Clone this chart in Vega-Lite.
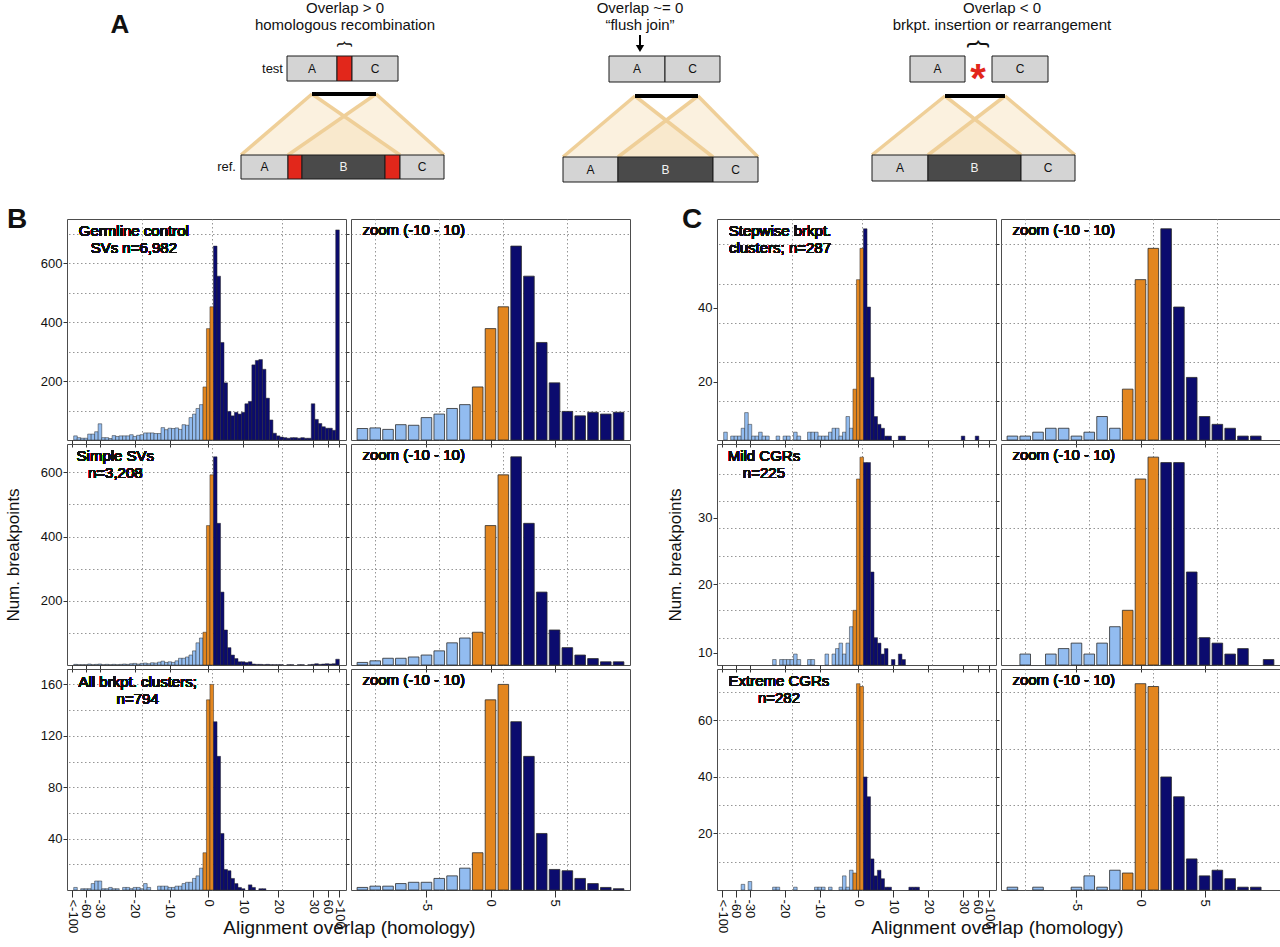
{
  "$schema": "https://vega.github.io/schema/vega-lite/v6.json",
  "padding": {"left": 3, "top": 0, "right": 0, "bottom": 0},
  "autosize": {"type": "pad"},
  "background": "white",
  "config": {
    "font": "Liberation Sans",
    "view": {"stroke": "#4d4d4d", "strokeWidth": 1},
    "axis": {"domain": false, "labelColor": "#111", "labelFontSize": 13, "labelOverlap": false, "tickColor": "#333", "gridColor": "#8a8a8a", "gridDash": [1.5, 2.5], "gridWidth": 0.9, "titleColor": "#111", "titleFontWeight": "normal"},
    "title": {"fontWeight": "bold", "color": "#111"}
  },
  "resolve": {"scale": {"color": "independent"}},
  "datasets": {
    "boxes": [
      {"x": 28.7, "x2": 33.7, "y": 5.6, "y2": 8.1, "tone": "light"},
      {"x": 33.7, "x2": 35.2, "y": 5.6, "y2": 8.1, "tone": "red"},
      {"x": 35.2, "x2": 39.8, "y": 5.6, "y2": 8.1, "tone": "light"},
      {"x": 24.1, "x2": 28.8, "y": 15.5, "y2": 17.9, "tone": "light"},
      {"x": 28.8, "x2": 30.2, "y": 15.5, "y2": 17.9, "tone": "red"},
      {"x": 30.2, "x2": 38.5, "y": 15.5, "y2": 17.9, "tone": "dark"},
      {"x": 38.5, "x2": 40.0, "y": 15.5, "y2": 17.9, "tone": "red"},
      {"x": 40.0, "x2": 44.4, "y": 15.5, "y2": 17.9, "tone": "light"},
      {"x": 60.9, "x2": 66.5, "y": 5.6, "y2": 8.2, "tone": "light"},
      {"x": 66.5, "x2": 72.0, "y": 5.6, "y2": 8.2, "tone": "light"},
      {"x": 56.3, "x2": 61.8, "y": 15.7, "y2": 18.2, "tone": "light"},
      {"x": 61.8, "x2": 71.3, "y": 15.7, "y2": 18.2, "tone": "dark"},
      {"x": 71.3, "x2": 75.8, "y": 15.7, "y2": 18.2, "tone": "light"},
      {"x": 91.0, "x2": 96.5, "y": 5.6, "y2": 8.2, "tone": "light"},
      {"x": 99.2, "x2": 104.8, "y": 5.6, "y2": 8.2, "tone": "light"},
      {"x": 87.2, "x2": 92.8, "y": 15.5, "y2": 18.1, "tone": "light"},
      {"x": 92.8, "x2": 102.1, "y": 15.5, "y2": 18.1, "tone": "dark"},
      {"x": 102.1, "x2": 107.5, "y": 15.5, "y2": 18.1, "tone": "light"}
    ],
    "links": [
      {"x": 31.2, "x2": 37.6, "y": 9.4},
      {"x": 63.5, "x2": 69.8, "y": 9.6},
      {"x": 94.5, "x2": 100.5, "y": 9.6}
    ],
    "beams": [
      {"w": "1L", "y": 9.4, "xa": 31.2, "xb": 31.2}, {"w": "1L", "y": 15.5, "xa": 24.1, "xb": 40.0},
      {"w": "1R", "y": 9.4, "xa": 37.6, "xb": 37.6}, {"w": "1R", "y": 15.5, "xa": 28.8, "xb": 44.4},
      {"w": "2L", "y": 9.6, "xa": 63.5, "xb": 63.5}, {"w": "2L", "y": 15.7, "xa": 56.3, "xb": 71.3},
      {"w": "2R", "y": 9.6, "xa": 69.8, "xb": 69.8}, {"w": "2R", "y": 15.7, "xa": 61.8, "xb": 75.8},
      {"w": "3L", "y": 9.6, "xa": 94.5, "xb": 94.5}, {"w": "3L", "y": 15.5, "xa": 87.2, "xb": 102.1},
      {"w": "3R", "y": 9.6, "xa": 100.5, "xb": 100.5}, {"w": "3R", "y": 15.5, "xa": 92.8, "xb": 107.5}
    ],
    "edges": [
      {"x": 31.2, "y": 9.4, "x2": 24.1, "y2": 15.5}, {"x": 31.2, "y": 9.4, "x2": 40.0, "y2": 15.5},
      {"x": 37.6, "y": 9.4, "x2": 28.8, "y2": 15.5}, {"x": 37.6, "y": 9.4, "x2": 44.4, "y2": 15.5},
      {"x": 63.5, "y": 9.6, "x2": 56.3, "y2": 15.7}, {"x": 63.5, "y": 9.6, "x2": 71.3, "y2": 15.7},
      {"x": 69.8, "y": 9.6, "x2": 61.8, "y2": 15.7}, {"x": 69.8, "y": 9.6, "x2": 75.8, "y2": 15.7},
      {"x": 94.5, "y": 9.6, "x2": 87.2, "y2": 15.5}, {"x": 94.5, "y": 9.6, "x2": 102.1, "y2": 15.5},
      {"x": 100.5, "y": 9.6, "x2": 92.8, "y2": 15.5}, {"x": 100.5, "y": 9.6, "x2": 107.5, "y2": 15.5}
    ],
    "heads": [
      {"x": 34.5, "y": 1.3, "t": "Overlap > 0"},
      {"x": 34.5, "y": 3.0, "t": "homologous recombination"},
      {"x": 64.0, "y": 1.3, "t": "Overlap ~= 0"},
      {"x": 64.0, "y": 3.0, "t": "“flush join”"},
      {"x": 100.2, "y": 1.3, "t": "Overlap < 0"},
      {"x": 100.2, "y": 3.0, "t": "brkpt. insertion or rearrangement"}
    ],
    "boxText": [
      {"x": 31.2, "y": 6.85, "t": "A", "on": "light"}, {"x": 37.5, "y": 6.85, "t": "C", "on": "light"},
      {"x": 26.45, "y": 16.7, "t": "A", "on": "light"}, {"x": 34.35, "y": 16.7, "t": "B", "on": "dark"}, {"x": 42.2, "y": 16.7, "t": "C", "on": "light"},
      {"x": 63.7, "y": 6.9, "t": "A", "on": "light"}, {"x": 69.25, "y": 6.9, "t": "C", "on": "light"},
      {"x": 59.05, "y": 16.95, "t": "A", "on": "light"}, {"x": 66.55, "y": 16.95, "t": "B", "on": "dark"}, {"x": 73.55, "y": 16.95, "t": "C", "on": "light"},
      {"x": 93.75, "y": 6.9, "t": "A", "on": "light"}, {"x": 102.0, "y": 6.9, "t": "C", "on": "light"},
      {"x": 90.0, "y": 16.8, "t": "A", "on": "light"}, {"x": 97.45, "y": 16.8, "t": "B", "on": "dark"}, {"x": 104.8, "y": 16.8, "t": "C", "on": "light"}
    ],
    "sideText": [
      {"x": 28.3, "y": 6.9, "t": "test"},
      {"x": 23.6, "y": 16.7, "t": "ref."}
    ],
    "germ": [
      {"p": -38, "n": 14}, {"p": -37, "n": 8}, {"p": -36, "n": 6}, {"p": -35, "n": 6}, {"p": -34, "n": 20}, {"p": -33, "n": 20}, {"p": -32, "n": 28}, {"p": -31, "n": 55}, {"p": -30, "n": 8}, {"p": -29, "n": 8},
      {"p": -28, "n": 5}, {"p": -27, "n": 15}, {"p": -26, "n": 12}, {"p": -25, "n": 14}, {"p": -24, "n": 14}, {"p": -23, "n": 14}, {"p": -22, "n": 18}, {"p": -21, "n": 12}, {"p": -20, "n": 16}, {"p": -19, "n": 18},
      {"p": -18, "n": 24}, {"p": -17, "n": 24}, {"p": -16, "n": 24}, {"p": -15, "n": 22}, {"p": -14, "n": 22}, {"p": -13, "n": 42}, {"p": -12, "n": 35}, {"p": -11, "n": 40},
      {"p": -10, "n": 39}, {"p": -9, "n": 41}, {"p": -8, "n": 36}, {"p": -7, "n": 52}, {"p": -6, "n": 50}, {"p": -5, "n": 76}, {"p": -4, "n": 88}, {"p": -3, "n": 107}, {"p": -2, "n": 120},
      {"p": -1, "n": 180}, {"p": 0, "n": 378}, {"p": 1, "n": 452},
      {"p": 2, "n": 658}, {"p": 3, "n": 556}, {"p": 4, "n": 331}, {"p": 5, "n": 194}, {"p": 6, "n": 97}, {"p": 7, "n": 82}, {"p": 8, "n": 94}, {"p": 9, "n": 88}, {"p": 10, "n": 94},
      {"p": 11, "n": 123}, {"p": 12, "n": 131}, {"p": 13, "n": 255}, {"p": 14, "n": 270}, {"p": 15, "n": 273}, {"p": 16, "n": 240}, {"p": 17, "n": 142}, {"p": 18, "n": 68}, {"p": 19, "n": 23}, {"p": 20, "n": 14},
      {"p": 21, "n": 10}, {"p": 22, "n": 8}, {"p": 23, "n": 6}, {"p": 24, "n": 8}, {"p": 25, "n": 8}, {"p": 26, "n": 6}, {"p": 27, "n": 8}, {"p": 28, "n": 6}, {"p": 29, "n": 6},
      {"p": 30, "n": 123}, {"p": 31, "n": 70}, {"p": 32, "n": 56}, {"p": 33, "n": 45}, {"p": 34, "n": 40}, {"p": 35, "n": 40}, {"p": 36, "n": 33}, {"p": 37, "n": 713}
    ],
    "simp": [
      {"p": -38, "n": 2}, {"p": -37, "n": 1}, {"p": -36, "n": 1}, {"p": -35, "n": 1}, {"p": -34, "n": 3}, {"p": -33, "n": 1}, {"p": -32, "n": 2}, {"p": -31, "n": 3}, {"p": -30, "n": 1}, {"p": -29, "n": 2},
      {"p": -28, "n": 1}, {"p": -27, "n": 2}, {"p": -26, "n": 1}, {"p": -25, "n": 2}, {"p": -24, "n": 3}, {"p": -23, "n": 2}, {"p": -22, "n": 4}, {"p": -21, "n": 5}, {"p": -20, "n": 3}, {"p": -19, "n": 5},
      {"p": -18, "n": 6}, {"p": -17, "n": 4}, {"p": -16, "n": 7}, {"p": -15, "n": 6}, {"p": -14, "n": 9}, {"p": -13, "n": 12}, {"p": -12, "n": 8}, {"p": -11, "n": 10},
      {"p": -10, "n": 8}, {"p": -9, "n": 13}, {"p": -8, "n": 21}, {"p": -7, "n": 21}, {"p": -6, "n": 25}, {"p": -5, "n": 31}, {"p": -4, "n": 44}, {"p": -3, "n": 69}, {"p": -2, "n": 84},
      {"p": -1, "n": 102}, {"p": 0, "n": 434}, {"p": 1, "n": 592},
      {"p": 2, "n": 648}, {"p": 3, "n": 441}, {"p": 4, "n": 227}, {"p": 5, "n": 109}, {"p": 6, "n": 54}, {"p": 7, "n": 31}, {"p": 8, "n": 20}, {"p": 9, "n": 10}, {"p": 10, "n": 10},
      {"p": 11, "n": 8}, {"p": 12, "n": 10}, {"p": 13, "n": 3}, {"p": 14, "n": 2}, {"p": 15, "n": 2}, {"p": 16, "n": 1}, {"p": 17, "n": 2}, {"p": 18, "n": 1}, {"p": 19, "n": 1}, {"p": 20, "n": 1},
      {"p": 21, "n": 1}, {"p": 23, "n": 1}, {"p": 24, "n": 1}, {"p": 26, "n": 1}, {"p": 27, "n": 1}, {"p": 29, "n": 1},
      {"p": 30, "n": 2}, {"p": 31, "n": 4}, {"p": 32, "n": 2}, {"p": 33, "n": 3}, {"p": 34, "n": 4}, {"p": 35, "n": 3}, {"p": 36, "n": 4}, {"p": 37, "n": 18}
    ],
    "allc": [
      {"p": -38, "n": 2}, {"p": -36, "n": 1}, {"p": -35, "n": 1}, {"p": -34, "n": 1}, {"p": -33, "n": 5}, {"p": -32, "n": 7}, {"p": -31, "n": 7}, {"p": -30, "n": 1}, {"p": -29, "n": 1},
      {"p": -28, "n": 2}, {"p": -27, "n": 1}, {"p": -26, "n": 1}, {"p": -24, "n": 2}, {"p": -23, "n": 2}, {"p": -22, "n": 1}, {"p": -21, "n": 2}, {"p": -20, "n": 2}, {"p": -19, "n": 1},
      {"p": -18, "n": 5}, {"p": -17, "n": 2}, {"p": -14, "n": 3}, {"p": -13, "n": 3}, {"p": -12, "n": 3}, {"p": -11, "n": 2},
      {"p": -10, "n": 2}, {"p": -9, "n": 3}, {"p": -8, "n": 3}, {"p": -7, "n": 5}, {"p": -6, "n": 6}, {"p": -5, "n": 6}, {"p": -4, "n": 9}, {"p": -3, "n": 11}, {"p": -2, "n": 17},
      {"p": -1, "n": 29}, {"p": 0, "n": 148}, {"p": 1, "n": 160},
      {"p": 2, "n": 131}, {"p": 3, "n": 104}, {"p": 4, "n": 44}, {"p": 5, "n": 16}, {"p": 6, "n": 15}, {"p": 7, "n": 9}, {"p": 8, "n": 5}, {"p": 9, "n": 2}, {"p": 10, "n": 1},
      {"p": 12, "n": 4}, {"p": 13, "n": 2}, {"p": 15, "n": 1}, {"p": 16, "n": 1}
    ],
    "step": [
      {"p": -38, "n": 2}, {"p": -36, "n": 1}, {"p": -35, "n": 1}, {"p": -34, "n": 1}, {"p": -33, "n": 3}, {"p": -32, "n": 7}, {"p": -31, "n": 4}, {"p": -30, "n": 1}, {"p": -29, "n": 1},
      {"p": -28, "n": 2}, {"p": -27, "n": 1}, {"p": -26, "n": 1}, {"p": -23, "n": 1}, {"p": -21, "n": 1}, {"p": -20, "n": 1}, {"p": -18, "n": 2}, {"p": -17, "n": 1},
      {"p": -14, "n": 2}, {"p": -13, "n": 2}, {"p": -12, "n": 2}, {"p": -11, "n": 1},
      {"p": -10, "n": 1}, {"p": -9, "n": 1}, {"p": -8, "n": 2}, {"p": -7, "n": 3}, {"p": -6, "n": 3}, {"p": -5, "n": 1}, {"p": -4, "n": 2}, {"p": -3, "n": 6}, {"p": -2, "n": 3},
      {"p": -1, "n": 13}, {"p": 0, "n": 41}, {"p": 1, "n": 49},
      {"p": 2, "n": 54}, {"p": 3, "n": 34}, {"p": 4, "n": 16}, {"p": 5, "n": 6}, {"p": 6, "n": 4}, {"p": 7, "n": 3}, {"p": 8, "n": 1}, {"p": 9, "n": 1},
      {"p": 12, "n": 1}, {"p": 13, "n": 1}, {"p": 30, "n": 1}, {"p": 34, "n": 1}
    ],
    "mild": [
      {"p": -24, "n": 1}, {"p": -22, "n": 1}, {"p": -21, "n": 1}, {"p": -20, "n": 1}, {"p": -19, "n": 1}, {"p": -18, "n": 2}, {"p": -17, "n": 1}, {"p": -14, "n": 1}, {"p": -13, "n": 1},
      {"p": -9, "n": 2}, {"p": -7, "n": 2}, {"p": -6, "n": 3}, {"p": -5, "n": 4}, {"p": -4, "n": 2}, {"p": -3, "n": 4}, {"p": -2, "n": 7},
      {"p": -1, "n": 10}, {"p": 0, "n": 34}, {"p": 1, "n": 38},
      {"p": 2, "n": 37}, {"p": 3, "n": 37}, {"p": 4, "n": 17}, {"p": 5, "n": 5}, {"p": 6, "n": 4}, {"p": 7, "n": 2}, {"p": 8, "n": 3}, {"p": 10, "n": 1},
      {"p": 12, "n": 2}, {"p": 13, "n": 1}
    ],
    "extr": [
      {"p": -33, "n": 2}, {"p": -31, "n": 3}, {"p": -24, "n": 1}, {"p": -23, "n": 1}, {"p": -18, "n": 1}, {"p": -12, "n": 1}, {"p": -11, "n": 1},
      {"p": -10, "n": 1}, {"p": -8, "n": 1}, {"p": -5, "n": 1}, {"p": -4, "n": 5}, {"p": -3, "n": 1}, {"p": -2, "n": 7},
      {"p": -1, "n": 6}, {"p": 0, "n": 73}, {"p": 1, "n": 72},
      {"p": 2, "n": 40}, {"p": 3, "n": 33}, {"p": 4, "n": 11}, {"p": 5, "n": 5}, {"p": 6, "n": 7}, {"p": 7, "n": 4}, {"p": 8, "n": 1}, {"p": 9, "n": 1},
      {"p": 15, "n": 1}, {"p": 16, "n": 1}, {"p": 17, "n": 1}
    ]
  },
  "vconcat": [
    {
      "width": 1212,
      "height": 200,
      "view": {"stroke": null},
      "layer": [
        {
          "data": {"name": "beams"},
          "mark": {"type": "area", "orient": "horizontal", "fill": "#f6dfb9", "opacity": 0.45},
          "encoding": {
            "y": {"field": "y", "type": "quantitative", "scale": {"domain": [0, 20], "reverse": true, "nice": false, "zero": false}, "axis": null},
            "x": {"field": "xa", "type": "quantitative", "stack": null, "scale": {"domain": [6.7, 127.9], "nice": false, "zero": false}, "axis": null},
            "x2": {"field": "xb"},
            "detail": {"field": "w"}
          }
        },
        {
          "data": {"name": "edges"},
          "mark": {"type": "rule", "stroke": "#efcf98", "strokeWidth": 3.5},
          "encoding": {
            "x": {"field": "x", "type": "quantitative", "scale": {"domain": [6.7, 127.9], "nice": false, "zero": false}, "axis": null},
            "y": {"field": "y", "type": "quantitative", "scale": {"domain": [0, 20], "reverse": true, "nice": false, "zero": false}, "axis": null},
            "x2": {"field": "x2"},
            "y2": {"field": "y2"}
          }
        },
        {
          "data": {"name": "links"},
          "mark": {"type": "rule", "stroke": "#000", "strokeWidth": 4},
          "encoding": {
            "x": {"field": "x", "type": "quantitative", "scale": {"domain": [6.7, 127.9], "nice": false, "zero": false}, "axis": null},
            "x2": {"field": "x2"},
            "y": {"field": "y", "type": "quantitative", "scale": {"domain": [0, 20], "reverse": true, "nice": false, "zero": false}, "axis": null}
          }
        },
        {
          "data": {"name": "boxes"},
          "mark": {"type": "rect", "stroke": "#1a1a1a", "strokeWidth": 1},
          "encoding": {
            "x": {"field": "x", "type": "quantitative", "scale": {"domain": [6.7, 127.9], "nice": false, "zero": false}, "axis": null},
            "x2": {"field": "x2"},
            "y": {"field": "y", "type": "quantitative", "scale": {"domain": [0, 20], "reverse": true, "nice": false, "zero": false}, "axis": null},
            "y2": {"field": "y2"},
            "color": {"field": "tone", "type": "nominal", "scale": {"domain": ["light", "dark", "red"], "range": ["#d4d4d4", "#4a4a4a", "#e2271b"]}, "legend": null}
          }
        },
        {
          "data": {"name": "boxText"},
          "transform": [{"filter": "datum.on == 'light'"}],
          "mark": {"type": "text", "fontSize": 12, "fill": "#111", "align": "center", "baseline": "middle"},
          "encoding": {
            "x": {"field": "x", "type": "quantitative", "scale": {"domain": [6.7, 127.9], "nice": false, "zero": false}, "axis": null},
            "y": {"field": "y", "type": "quantitative", "scale": {"domain": [0, 20], "reverse": true, "nice": false, "zero": false}, "axis": null},
            "text": {"field": "t"}
          }
        },
        {
          "data": {"name": "boxText"},
          "transform": [{"filter": "datum.on == 'dark'"}],
          "mark": {"type": "text", "fontSize": 12, "fill": "#f2f2f2", "align": "center", "baseline": "middle"},
          "encoding": {
            "x": {"field": "x", "type": "quantitative", "scale": {"domain": [6.7, 127.9], "nice": false, "zero": false}, "axis": null},
            "y": {"field": "y", "type": "quantitative", "scale": {"domain": [0, 20], "reverse": true, "nice": false, "zero": false}, "axis": null},
            "text": {"field": "t"}
          }
        },
        {
          "data": {"name": "heads"},
          "mark": {"type": "text", "fontSize": 15, "fill": "#111", "align": "center", "baseline": "alphabetic"},
          "encoding": {
            "x": {"field": "x", "type": "quantitative", "scale": {"domain": [6.7, 127.9], "nice": false, "zero": false}, "axis": null},
            "y": {"field": "y", "type": "quantitative", "scale": {"domain": [0, 20], "reverse": true, "nice": false, "zero": false}, "axis": null},
            "text": {"field": "t"}
          }
        },
        {
          "data": {"name": "sideText"},
          "mark": {"type": "text", "fontSize": 13, "fill": "#111", "align": "right", "baseline": "middle"},
          "encoding": {
            "x": {"field": "x", "type": "quantitative", "scale": {"domain": [6.7, 127.9], "nice": false, "zero": false}, "axis": null},
            "y": {"field": "y", "type": "quantitative", "scale": {"domain": [0, 20], "reverse": true, "nice": false, "zero": false}, "axis": null},
            "text": {"field": "t"}
          }
        },
        {
          "data": {"values": [{}]},
          "mark": {"type": "text", "text": "A", "fontSize": 26, "fontWeight": "bold", "fill": "#111", "align": "center", "baseline": "alphabetic"},
          "encoding": {
            "x": {"datum": 12.0, "type": "quantitative", "axis": null},
            "y": {"datum": 3.3, "type": "quantitative", "axis": null}
          }
        },
        {
          "data": {"values": [{}]},
          "mark": {"type": "text", "text": "*", "fontSize": 40, "fontWeight": "bold", "fill": "#e2271b", "align": "center", "baseline": "middle"},
          "encoding": {
            "x": {"datum": 97.8, "type": "quantitative", "axis": null},
            "y": {"datum": 8.0, "type": "quantitative", "axis": null}
          }
        },
        {
          "data": {"values": [{}]},
          "mark": {"type": "text", "text": "{", "fontSize": 17, "angle": 90, "fill": "#111", "align": "center", "baseline": "middle"},
          "encoding": {
            "x": {"datum": 34.45, "type": "quantitative", "axis": null},
            "y": {"datum": 4.4, "type": "quantitative", "axis": null}
          }
        },
        {
          "data": {"values": [{}]},
          "mark": {"type": "text", "text": "{", "fontSize": 24, "angle": 90, "fill": "#111", "align": "center", "baseline": "middle"},
          "encoding": {
            "x": {"datum": 97.85, "type": "quantitative", "axis": null},
            "y": {"datum": 4.4, "type": "quantitative", "axis": null}
          }
        },
        {
          "data": {"values": [{}]},
          "mark": {"type": "rule", "stroke": "#000", "strokeWidth": 2},
          "encoding": {
            "x": {"datum": 64.0, "type": "quantitative", "axis": null},
            "y": {"datum": 3.5, "type": "quantitative", "axis": null},
            "y2": {"datum": 4.6}
          }
        },
        {
          "data": {"values": [{}]},
          "mark": {"type": "point", "shape": "triangle-down", "filled": true, "size": 70, "color": "#000", "opacity": 1},
          "encoding": {
            "x": {"datum": 64.0, "type": "quantitative", "axis": null},
            "y": {"datum": 4.85, "type": "quantitative", "axis": null}
          }
        }
      ]
    },
    {
      "columns": 5,
      "spacing": {"row": 4, "column": 5},
      "bounds": "flush",
      "concat": [
        {
          "width": 279, "height": 221,
          "data": {"name": "germ"},
          "title": {"text": "B", "anchor": "start", "frame": "group", "dx": -60, "offset": -37, "baseline": "alphabetic", "fontSize": 28},
          "layer": [
            {
              "mark": {"type": "bar", "size": 3.6, "stroke": "#2b2b2b", "strokeWidth": 0.5},
              "encoding": {
                "x": {"field": "p", "type": "quantitative", "scale": {"domain": [-39, 38], "nice": false, "zero": false},
                      "axis": {"orient": "bottom", "values": [-38.9, -35, -31, -21, -11, 0, 10, 20, 30, 34.2, 37.5], "labels": false, "ticks": true, "tickSize": 7, "grid": false, "title": null}},
                "y": {"field": "n", "type": "quantitative", "scale": {"domain": [0, 750], "nice": false},
                      "axis": {"orient": "left", "values": [200, 400, 600], "grid": false, "tickSize": 4, "labelPadding": 1, "title": null}},
                "color": {"field": "p", "type": "quantitative", "scale": {"type": "threshold", "domain": [-1.5, 1.5], "range": ["#92bcf0", "#e3861f", "#0b0b6e"]}, "legend": null}
              }
            },
            {
              "mark": {"type": "text", "align": "center", "baseline": "alphabetic", "dy": 17, "fontSize": 15, "lineHeight": 17, "fill": "#111", "text": ["Germline control", "SVs n=6,982"]},
              "encoding": {
                "x": {"datum": -21.3, "type": "quantitative", "axis": {"orient": "top", "values": [-19, 1, 21], "grid": true, "labels": false, "ticks": false, "title": null}},
                "y": {"datum": 750, "type": "quantitative", "axis": {"orient": "right", "values": [100, 200, 300, 400, 500, 600, 700], "grid": true, "labels": false, "ticks": true, "tickSize": 3, "title": null}}
              }
            }
          ],
          "resolve": {"axis": {"x": "independent", "y": "independent"}}
        },
        {
          "width": 279, "height": 221,
          "data": {"name": "germ"},
          "transform": [{"filter": "datum.p >= -10 && datum.p <= 10"}],
          "layer": [
            {
              "mark": {"type": "bar", "size": 10.6, "stroke": "#2b2b2b", "strokeWidth": 0.8},
              "encoding": {
                "x": {"field": "p", "type": "quantitative", "scale": {"domain": [-10.5, 10.5], "nice": false, "zero": false},
                      "axis": {"orient": "bottom", "values": [-5, 0, 5], "labels": false, "ticks": true, "tickSize": 7, "grid": false, "title": null}},
                "y": {"field": "n", "type": "quantitative", "scale": {"domain": [0, 750], "nice": false},
                      "axis": {"values": [100, 200, 300, 400, 500, 600, 700], "grid": true, "labels": false, "ticks": false, "title": null}},
                "color": {"field": "p", "type": "quantitative", "scale": {"type": "threshold", "domain": [-1.5, 1.5], "range": ["#92bcf0", "#e3861f", "#0b0b6e"]}, "legend": null}
              }
            },
            {
              "mark": {"type": "text", "align": "left", "baseline": "alphabetic", "dy": 16, "fontSize": 15, "fill": "#111", "text": "zoom (-10 - 10)"},
              "encoding": {
                "x": {"datum": -10.0, "type": "quantitative", "axis": {"orient": "top", "values": [-9, -4, 1, 6], "grid": true, "labels": false, "ticks": false, "title": null}},
                "y": {"datum": 750, "type": "quantitative"}
              }
            }
          ],
          "resolve": {"axis": {"x": "independent"}}
        },
        {"width": 77, "height": 221, "data": {"values": []}, "mark": "point", "view": {"stroke": null}},
        {
          "width": 279, "height": 221,
          "data": {"name": "step"},
          "title": {"text": "C", "anchor": "start", "frame": "group", "dx": -35, "offset": -37, "baseline": "alphabetic", "fontSize": 28},
          "layer": [
            {
              "mark": {"type": "bar", "size": 3.6, "stroke": "#2b2b2b", "strokeWidth": 0.5},
              "encoding": {
                "x": {"field": "p", "type": "quantitative", "scale": {"domain": [-39, 38], "nice": false, "zero": false},
                      "axis": {"orient": "bottom", "values": [-38.9, -35, -31, -21, -11, 0, 10, 20, 30, 34.2, 37.5], "labels": false, "ticks": true, "tickSize": 7, "grid": false, "title": null}},
                "y": {"field": "n", "type": "quantitative", "scale": {"domain": [0, 56.5], "nice": false},
                      "axis": {"orient": "left", "values": [14.9, 33.8], "labelExpr": "datum.value < 20 ? '20' : '40'", "grid": false, "tickSize": 4, "labelPadding": 1, "title": null}},
                "color": {"field": "p", "type": "quantitative", "scale": {"type": "threshold", "domain": [-1.5, 1.5], "range": ["#92bcf0", "#e3861f", "#0b0b6e"]}, "legend": null}
              }
            },
            {
              "mark": {"type": "text", "align": "center", "baseline": "alphabetic", "dy": 17, "fontSize": 15, "lineHeight": 17, "fill": "#111", "text": ["Stepwise brkpt.", "clusters; n=287"]},
              "encoding": {
                "x": {"datum": -22.4, "type": "quantitative", "axis": {"orient": "top", "values": [-19, 1, 21], "grid": true, "labels": false, "ticks": false, "title": null}},
                "y": {"datum": 56.5, "type": "quantitative", "axis": {"orient": "right", "values": [10, 20, 30, 40, 50], "grid": true, "labels": false, "ticks": true, "tickSize": 3, "title": null}}
              }
            }
          ],
          "resolve": {"axis": {"x": "independent", "y": "independent"}}
        },
        {
          "width": 279, "height": 221,
          "data": {"name": "step"},
          "transform": [{"filter": "datum.p >= -10 && datum.p <= 10"}],
          "layer": [
            {
              "mark": {"type": "bar", "size": 10.6, "stroke": "#2b2b2b", "strokeWidth": 0.8},
              "encoding": {
                "x": {"field": "p", "type": "quantitative", "scale": {"domain": [-10.5, 10.5], "nice": false, "zero": false},
                      "axis": {"orient": "bottom", "values": [-5, 0, 5], "labels": false, "ticks": true, "tickSize": 7, "grid": false, "title": null}},
                "y": {"field": "n", "type": "quantitative", "scale": {"domain": [0, 56.5], "nice": false},
                      "axis": {"values": [10, 20, 30, 40, 50], "grid": true, "labels": false, "ticks": false, "title": null}},
                "color": {"field": "p", "type": "quantitative", "scale": {"type": "threshold", "domain": [-1.5, 1.5], "range": ["#92bcf0", "#e3861f", "#0b0b6e"]}, "legend": null}
              }
            },
            {
              "mark": {"type": "text", "align": "left", "baseline": "alphabetic", "dy": 16, "fontSize": 15, "fill": "#111", "text": "zoom (-10 - 10)"},
              "encoding": {
                "x": {"datum": -10.0, "type": "quantitative", "axis": {"orient": "top", "values": [-9, -4, 1, 6], "grid": true, "labels": false, "ticks": false, "title": null}},
                "y": {"datum": 56.5, "type": "quantitative"}
              }
            }
          ],
          "resolve": {"axis": {"x": "independent"}}
        },
        {
          "width": 279, "height": 221,
          "data": {"name": "simp"},
          "layer": [
            {
              "mark": {"type": "bar", "size": 3.6, "stroke": "#2b2b2b", "strokeWidth": 0.5},
              "encoding": {
                "x": {"field": "p", "type": "quantitative", "scale": {"domain": [-39, 38], "nice": false, "zero": false},
                      "axis": {"orient": "bottom", "values": [-38.9, -35, -31, -21, -11, 0, 10, 20, 30, 34.2, 37.5], "labels": false, "ticks": true, "tickSize": 7, "grid": false, "title": null}},
                "y": {"field": "n", "type": "quantitative", "scale": {"domain": [0, 688], "nice": false},
                      "axis": {"orient": "left", "values": [200, 400, 600], "grid": false, "tickSize": 4, "labelPadding": 1, "title": "Num. breakpoints", "titleFontSize": 17, "titlePadding": 18}},
                "color": {"field": "p", "type": "quantitative", "scale": {"type": "threshold", "domain": [-1.5, 1.5], "range": ["#92bcf0", "#e3861f", "#0b0b6e"]}, "legend": null}
              }
            },
            {
              "mark": {"type": "text", "align": "center", "baseline": "alphabetic", "dy": 17, "fontSize": 15, "lineHeight": 17, "fill": "#111", "text": ["Simple SVs", "n=3,208"]},
              "encoding": {
                "x": {"datum": -26.6, "type": "quantitative", "axis": {"orient": "top", "values": [-19, 1, 21], "grid": true, "labels": false, "ticks": false, "title": null}},
                "y": {"datum": 688, "type": "quantitative", "axis": {"orient": "right", "values": [100, 200, 300, 400, 500, 600], "grid": true, "labels": false, "ticks": true, "tickSize": 3, "title": null}}
              }
            }
          ],
          "resolve": {"axis": {"x": "independent", "y": "independent"}}
        },
        {
          "width": 279, "height": 221,
          "data": {"name": "simp"},
          "transform": [{"filter": "datum.p >= -10 && datum.p <= 10"}],
          "layer": [
            {
              "mark": {"type": "bar", "size": 10.6, "stroke": "#2b2b2b", "strokeWidth": 0.8},
              "encoding": {
                "x": {"field": "p", "type": "quantitative", "scale": {"domain": [-10.5, 10.5], "nice": false, "zero": false},
                      "axis": {"orient": "bottom", "values": [-5, 0, 5], "labels": false, "ticks": true, "tickSize": 7, "grid": false, "title": null}},
                "y": {"field": "n", "type": "quantitative", "scale": {"domain": [0, 688], "nice": false},
                      "axis": {"values": [100, 200, 300, 400, 500, 600], "grid": true, "labels": false, "ticks": false, "title": null}},
                "color": {"field": "p", "type": "quantitative", "scale": {"type": "threshold", "domain": [-1.5, 1.5], "range": ["#92bcf0", "#e3861f", "#0b0b6e"]}, "legend": null}
              }
            },
            {
              "mark": {"type": "text", "align": "left", "baseline": "alphabetic", "dy": 16, "fontSize": 15, "fill": "#111", "text": "zoom (-10 - 10)"},
              "encoding": {
                "x": {"datum": -10.0, "type": "quantitative", "axis": {"orient": "top", "values": [-9, -4, 1, 6], "grid": true, "labels": false, "ticks": false, "title": null}},
                "y": {"datum": 688, "type": "quantitative"}
              }
            }
          ],
          "resolve": {"axis": {"x": "independent"}}
        },
        {"width": 77, "height": 221, "data": {"values": []}, "mark": "point", "view": {"stroke": null}},
        {
          "width": 279, "height": 221,
          "data": {"name": "mild"},
          "layer": [
            {
              "mark": {"type": "bar", "size": 3.6, "stroke": "#2b2b2b", "strokeWidth": 0.5},
              "encoding": {
                "x": {"field": "p", "type": "quantitative", "scale": {"domain": [-39, 38], "nice": false, "zero": false},
                      "axis": {"orient": "bottom", "values": [-38.9, -35, -31, -21, -11, 0, 10, 20, 30, 34.2, 37.5], "labels": false, "ticks": true, "tickSize": 7, "grid": false, "title": null}},
                "y": {"field": "n", "type": "quantitative", "scale": {"domain": [0, 40.4], "nice": false},
                      "axis": {"orient": "left", "values": [2.2, 14.8, 26.9], "labelExpr": "datum.value < 5 ? '10' : datum.value < 20 ? '20' : '30'", "grid": false, "tickSize": 4, "labelPadding": 1, "title": "Num. breakpoints", "titleFontSize": 17, "titlePadding": 13}},
                "color": {"field": "p", "type": "quantitative", "scale": {"type": "threshold", "domain": [-1.5, 1.5], "range": ["#92bcf0", "#e3861f", "#0b0b6e"]}, "legend": null}
              }
            },
            {
              "mark": {"type": "text", "align": "center", "baseline": "alphabetic", "dy": 17, "fontSize": 15, "lineHeight": 17, "fill": "#111", "text": ["Mild CGRs", "n=225"]},
              "encoding": {
                "x": {"datum": -27.0, "type": "quantitative", "axis": {"orient": "top", "values": [-19, 1, 21], "grid": true, "labels": false, "ticks": false, "title": null}},
                "y": {"datum": 40.4, "type": "quantitative", "axis": {"orient": "right", "values": [5, 10, 15, 20, 25, 30, 35], "grid": true, "labels": false, "ticks": true, "tickSize": 3, "title": null}}
              }
            }
          ],
          "resolve": {"axis": {"x": "independent", "y": "independent"}}
        },
        {
          "width": 279, "height": 221,
          "data": {"name": "mild"},
          "transform": [{"filter": "datum.p >= -10 && datum.p <= 10"}],
          "layer": [
            {
              "mark": {"type": "bar", "size": 10.6, "stroke": "#2b2b2b", "strokeWidth": 0.8},
              "encoding": {
                "x": {"field": "p", "type": "quantitative", "scale": {"domain": [-10.5, 10.5], "nice": false, "zero": false},
                      "axis": {"orient": "bottom", "values": [-5, 0, 5], "labels": false, "ticks": true, "tickSize": 7, "grid": false, "title": null}},
                "y": {"field": "n", "type": "quantitative", "scale": {"domain": [0, 40.4], "nice": false},
                      "axis": {"values": [5, 10, 15, 20, 25, 30, 35], "grid": true, "labels": false, "ticks": false, "title": null}},
                "color": {"field": "p", "type": "quantitative", "scale": {"type": "threshold", "domain": [-1.5, 1.5], "range": ["#92bcf0", "#e3861f", "#0b0b6e"]}, "legend": null}
              }
            },
            {
              "mark": {"type": "text", "align": "left", "baseline": "alphabetic", "dy": 16, "fontSize": 15, "fill": "#111", "text": "zoom (-10 - 10)"},
              "encoding": {
                "x": {"datum": -10.0, "type": "quantitative", "axis": {"orient": "top", "values": [-9, -4, 1, 6], "grid": true, "labels": false, "ticks": false, "title": null}},
                "y": {"datum": 40.4, "type": "quantitative"}
              }
            }
          ],
          "resolve": {"axis": {"x": "independent"}}
        },
        {
          "width": 279, "height": 221,
          "data": {"name": "allc"},
          "layer": [
            {
              "mark": {"type": "bar", "size": 3.6, "stroke": "#2b2b2b", "strokeWidth": 0.5},
              "encoding": {
                "x": {"field": "p", "type": "quantitative", "scale": {"domain": [-39, 38], "nice": false, "zero": false},
                      "axis": {"orient": "bottom", "values": [-38.9, -35, -31, -21, -11, 0, 10, 20, 30, 34.2, 37.5], "labels": true, "labelExpr": "['<-100','-60','-30','-20','-10','0','10','20','30','60','>100'][indexof([-38.9,-35,-31,-21,-11,0,10,20,30,34.2,37.5], datum.value)]", "labelAngle": 90, "labelPadding": 2, "labelFlush": false, "ticks": true, "tickSize": 7, "grid": false,
                               "title": "Alignment overlap (homology)", "titleFontSize": 19, "titleX": 282, "titleY": 43, "titleBaseline": "alphabetic", "titleAlign": "center"}},
                "y": {"field": "n", "type": "quantitative", "scale": {"domain": [0, 172], "nice": false},
                      "axis": {"orient": "left", "values": [40, 80, 120, 160], "grid": false, "tickSize": 4, "labelPadding": 1, "title": null}},
                "color": {"field": "p", "type": "quantitative", "scale": {"type": "threshold", "domain": [-1.5, 1.5], "range": ["#92bcf0", "#e3861f", "#0b0b6e"]}, "legend": null}
              }
            },
            {
              "mark": {"type": "text", "align": "center", "baseline": "alphabetic", "dy": 18, "fontSize": 15, "lineHeight": 17, "fill": "#111", "text": ["All brkpt. clusters;", "n=794"]},
              "encoding": {
                "x": {"datum": -20.2, "type": "quantitative", "axis": {"orient": "top", "values": [-19, 1, 21], "grid": true, "labels": false, "ticks": false, "title": null}},
                "y": {"datum": 172, "type": "quantitative", "axis": {"orient": "right", "values": [20, 40, 60, 80, 100, 120, 140, 160], "grid": true, "labels": false, "ticks": true, "tickSize": 3, "title": null}}
              }
            }
          ],
          "resolve": {"axis": {"x": "independent", "y": "independent"}}
        },
        {
          "width": 279, "height": 221,
          "data": {"name": "allc"},
          "transform": [{"filter": "datum.p >= -10 && datum.p <= 10"}],
          "layer": [
            {
              "mark": {"type": "bar", "size": 10.6, "stroke": "#2b2b2b", "strokeWidth": 0.8},
              "encoding": {
                "x": {"field": "p", "type": "quantitative", "scale": {"domain": [-10.5, 10.5], "nice": false, "zero": false},
                      "axis": {"orient": "bottom", "values": [-5, 0, 5], "labels": true, "labelExpr": "'' + datum.value", "labelAngle": 90, "labelPadding": 2, "labelFlush": false, "ticks": true, "tickSize": 7, "grid": false, "title": null}},
                "y": {"field": "n", "type": "quantitative", "scale": {"domain": [0, 172], "nice": false},
                      "axis": {"values": [20, 40, 60, 80, 100, 120, 140, 160], "grid": true, "labels": false, "ticks": false, "title": null}},
                "color": {"field": "p", "type": "quantitative", "scale": {"type": "threshold", "domain": [-1.5, 1.5], "range": ["#92bcf0", "#e3861f", "#0b0b6e"]}, "legend": null}
              }
            },
            {
              "mark": {"type": "text", "align": "left", "baseline": "alphabetic", "dy": 16, "fontSize": 15, "fill": "#111", "text": "zoom (-10 - 10)"},
              "encoding": {
                "x": {"datum": -10.0, "type": "quantitative", "axis": {"orient": "top", "values": [-9, -4, 1, 6], "grid": true, "labels": false, "ticks": false, "title": null}},
                "y": {"datum": 172, "type": "quantitative"}
              }
            }
          ],
          "resolve": {"axis": {"x": "independent"}}
        },
        {"width": 77, "height": 221, "data": {"values": []}, "mark": "point", "view": {"stroke": null}},
        {
          "width": 279, "height": 221,
          "data": {"name": "extr"},
          "layer": [
            {
              "mark": {"type": "bar", "size": 3.6, "stroke": "#2b2b2b", "strokeWidth": 0.5},
              "encoding": {
                "x": {"field": "p", "type": "quantitative", "scale": {"domain": [-39, 38], "nice": false, "zero": false},
                      "axis": {"orient": "bottom", "values": [-38.9, -35, -31, -21, -11, 0, 10, 20, 30, 34.2, 37.5], "labels": true, "labelExpr": "['<-100','-60','-30','-20','-10','0','10','20','30','60','>100'][indexof([-38.9,-35,-31,-21,-11,0,10,20,30,34.2,37.5], datum.value)]", "labelAngle": 90, "labelPadding": 2, "labelFlush": false, "ticks": true, "tickSize": 7, "grid": false,
                               "title": "Alignment overlap (homology)", "titleFontSize": 19, "titleX": 280, "titleY": 43, "titleBaseline": "alphabetic", "titleAlign": "center"}},
                "y": {"field": "n", "type": "quantitative", "scale": {"domain": [0, 78.2], "nice": false},
                      "axis": {"orient": "left", "values": [20, 40, 60], "grid": false, "tickSize": 4, "labelPadding": 1, "title": null}},
                "color": {"field": "p", "type": "quantitative", "scale": {"type": "threshold", "domain": [-1.5, 1.5], "range": ["#92bcf0", "#e3861f", "#0b0b6e"]}, "legend": null}
              }
            },
            {
              "mark": {"type": "text", "align": "center", "baseline": "alphabetic", "dy": 17, "fontSize": 15, "lineHeight": 17, "fill": "#111", "text": ["Extreme CGRs", "n=282"]},
              "encoding": {
                "x": {"datum": -22.7, "type": "quantitative", "axis": {"orient": "top", "values": [-19, 1, 21], "grid": true, "labels": false, "ticks": false, "title": null}},
                "y": {"datum": 78.2, "type": "quantitative", "axis": {"orient": "right", "values": [10, 20, 30, 40, 50, 60, 70], "grid": true, "labels": false, "ticks": true, "tickSize": 3, "title": null}}
              }
            }
          ],
          "resolve": {"axis": {"x": "independent", "y": "independent"}}
        },
        {
          "width": 279, "height": 221,
          "data": {"name": "extr"},
          "transform": [{"filter": "datum.p >= -10 && datum.p <= 10"}],
          "layer": [
            {
              "mark": {"type": "bar", "size": 10.6, "stroke": "#2b2b2b", "strokeWidth": 0.8},
              "encoding": {
                "x": {"field": "p", "type": "quantitative", "scale": {"domain": [-10.5, 10.5], "nice": false, "zero": false},
                      "axis": {"orient": "bottom", "values": [-5, 0, 5], "labels": true, "labelExpr": "'' + datum.value", "labelAngle": 90, "labelPadding": 2, "labelFlush": false, "ticks": true, "tickSize": 7, "grid": false, "title": null}},
                "y": {"field": "n", "type": "quantitative", "scale": {"domain": [0, 78.2], "nice": false},
                      "axis": {"values": [10, 20, 30, 40, 50, 60, 70], "grid": true, "labels": false, "ticks": false, "title": null}},
                "color": {"field": "p", "type": "quantitative", "scale": {"type": "threshold", "domain": [-1.5, 1.5], "range": ["#92bcf0", "#e3861f", "#0b0b6e"]}, "legend": null}
              }
            },
            {
              "mark": {"type": "text", "align": "left", "baseline": "alphabetic", "dy": 16, "fontSize": 15, "fill": "#111", "text": "zoom (-10 - 10)"},
              "encoding": {
                "x": {"datum": -10.0, "type": "quantitative", "axis": {"orient": "top", "values": [-9, -4, 1, 6], "grid": true, "labels": false, "ticks": false, "title": null}},
                "y": {"datum": 78.2, "type": "quantitative"}
              }
            }
          ],
          "resolve": {"axis": {"x": "independent"}}
        }
      ]
    }
  ],
  "spacing": 5
}
